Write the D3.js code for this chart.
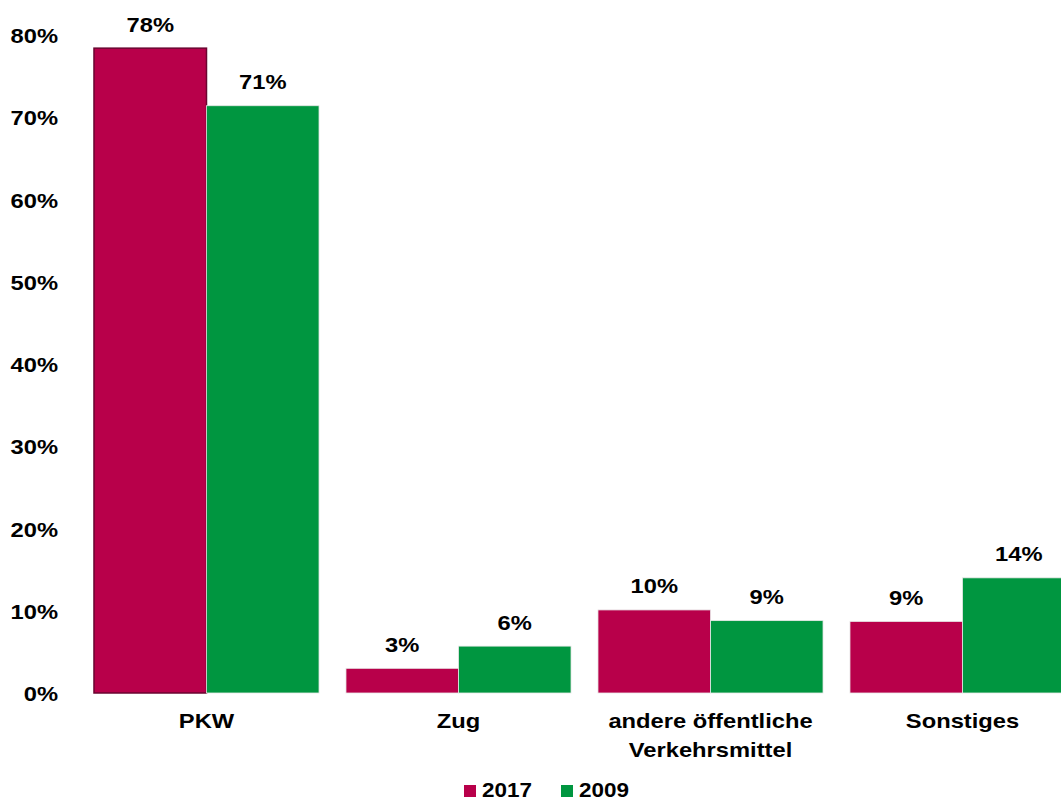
<!DOCTYPE html>
<html>
<head>
<meta charset="utf-8">
<script src="https://cdn.jsdelivr.net/npm/d3@7"></script>
<style>
  html, body { margin: 0; padding: 0; background: #fff; }
  svg { display: block; font-family: "Liberation Sans", Arial, sans-serif; font-weight: bold; }
</style>
</head>
<body>
<svg id="chart" width="1061" height="800"></svg>
<script>
// Verkehrsmittel-Anteile, 2017 gegenüber 2009 (in Prozent)
const categories = [["PKW"], ["Zug"], ["andere öffentliche", "Verkehrsmittel"], ["Sonstiges"]];
const seriesNames = ["2017", "2009"];
const values2017 = [78.4, 3.0, 10.1, 8.7];
const values2009 = [71.4, 5.7, 8.8, 14.0];
const yTicks = [0, 10, 20, 30, 40, 50, 60, 70, 80];
const colors = ["#B8004A", "#009640"];

// text is set slightly wide
const FONT = 21;
const STRETCH = 1.13;

const svg = d3.select("#chart");
const series = [values2017, values2009];

const x0 = d3.scaleBand()
  .domain(d3.range(categories.length))
  .range([80.5, 1088.5])
  .paddingInner(0.107)
  .paddingOuter(0.0535);

const x1 = d3.scaleBand()
  .domain(d3.range(seriesNames.length))
  .range([0, x0.bandwidth()]);

const y = d3.scaleLinear().domain([0, 80]).range([693, 35]);

// y-axis labels only (no line, no ticks)
const yAxis = d3.axisLeft(y)
  .tickValues(yTicks)
  .tickFormat(d => d + "%")
  .tickSize(0)
  .tickPadding(0);
const gy = svg.append("g").attr("transform", "translate(58,0)").call(yAxis);
gy.select(".domain").remove();
gy.selectAll("text")
  .attr("font-size", FONT)
  .attr("font-family", "'Liberation Sans', Arial, sans-serif")
  .attr("font-weight", "bold")
  .attr("fill", "#000")
  .attr("x", 0)
  .attr("dy", "0.36em")
  .attr("transform", `scale(${STRETCH},1)`);

function wideText(parent, x, yPos, anchor) {
  return parent.append("text")
    .attr("transform", `translate(${x},${yPos}) scale(${STRETCH},1)`)
    .attr("text-anchor", anchor)
    .attr("font-size", FONT)
    .attr("fill", "#000");
}

// bars
const groups = svg.append("g").selectAll("g")
  .data(categories)
  .join("g")
  .attr("transform", (d, i) => `translate(${x0(i)},0)`);

groups.each(function(cat, ci) {
  const g = d3.select(this);
  series.forEach((vals, si) => {
    const v = vals[ci];
    const isFirst = ci === 0 && si === 0;
    g.append("rect")
      .attr("x", x1(si))
      .attr("y", y(v))
      .attr("width", x1.bandwidth())
      .attr("height", y(0) - y(v))
      .attr("fill", colors[si])
      .attr("stroke", isFirst ? "#6a0530" : "#e8e8e8")
      .attr("stroke-width", isFirst ? 1.5 : 0.8);
    wideText(g, x1(si) + x1.bandwidth() / 2, y(v) - 16.5, "middle")
      .text(Math.round(v) + "%");
  });

  // category label
  cat.forEach((line, li) => {
    wideText(g, x0.bandwidth() / 2, 728 + li * 28.5, "middle").text(line);
  });
});

// legend
const legendX = [464, 561];
const legend = svg.append("g");
seriesNames.forEach((name, i) => {
  legend.append("rect")
    .attr("x", legendX[i])
    .attr("y", 785)
    .attr("width", 12)
    .attr("height", 12)
    .attr("fill", colors[i]);
  legend.append("text")
    .attr("x", legendX[i] + 18)
    .attr("y", 797)
    .attr("font-size", 21)
    .attr("fill", "#000")
    .attr("textLength", 50)
    .attr("lengthAdjust", "spacingAndGlyphs")
    .text(name);
});
</script>
</body>
</html>
